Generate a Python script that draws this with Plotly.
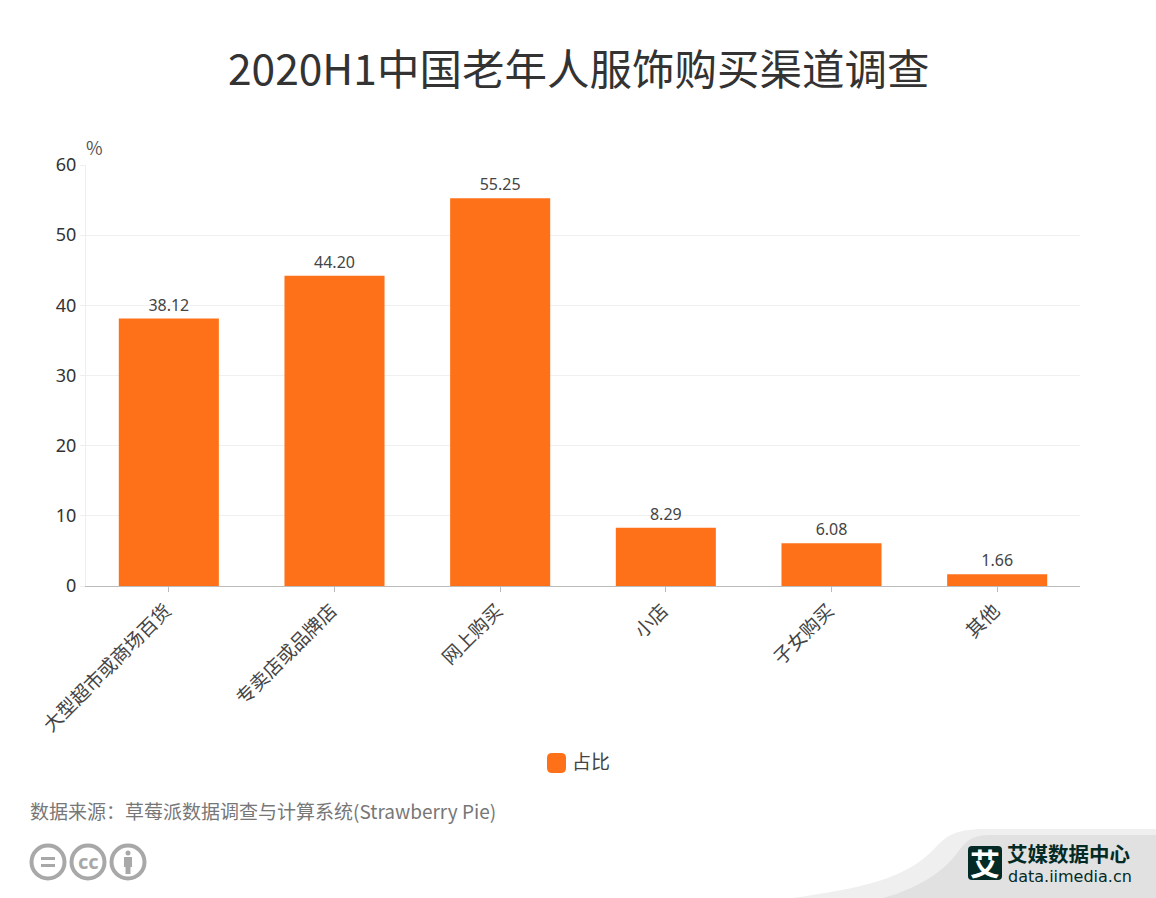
import plotly.graph_objects as go

categories = ["大型超市或商场百货", "专卖店或品牌店", "网上购买", "小店", "子女购买", "其他"]
values = [38.12, 44.20, 55.25, 8.29, 6.08, 1.66]
y_ticks = [0, 10, 20, 30, 40, 50, 60]
series_name = "占比"
title_text = "2020H1中国老年人服饰购买渠道调查"
source_text = "数据来源：草莓派数据调查与计算系统(Strawberry Pie)"

W, H = 1156, 898
L, R, T, B = 86, 1080, 165, 586
FONT = "Noto Sans CJK SC, Noto Sans, sans-serif"
ORANGE = "#ff7119"


def px(x):
    return (x - L) / (R - L)


def py(y):
    return (B - y) / (B - T)


def path(fmt_points):
    out = []
    for cmd, pts in fmt_points:
        out.append(cmd + " ".join(f"{px(x):.5f},{py(y):.5f}" for x, y in pts))
    return " ".join(out) + " Z"


def shp(**k):
    return dict(xref="paper", yref="paper", layer="below", **k)


def circle(cx, cy, r, line=None, fill="rgba(0,0,0,0)", lw=4):
    return shp(type="circle", x0=px(cx - r), x1=px(cx + r), y0=py(cy + r), y1=py(cy - r),
               line=dict(color=line or "rgba(0,0,0,0)", width=lw if line else 0), fillcolor=fill)


def rect(x0, y0, x1, y1, fill):
    return shp(type="rect", x0=px(x0), x1=px(x1), y0=py(y1), y1=py(y0), line=dict(width=0), fillcolor=fill)


def rrect(x0, y0, x1, y1, r, fill):
    p = path([("M", [(x0 + r, y0)]), ("L", [(x1 - r, y0)]), ("Q", [(x1, y0), (x1, y0 + r)]),
              ("L", [(x1, y1 - r)]), ("Q", [(x1, y1), (x1 - r, y1)]), ("L", [(x0 + r, y1)]),
              ("Q", [(x0, y1), (x0, y1 - r)]), ("L", [(x0, y0 + r)]), ("Q", [(x0, y0), (x0 + r, y0)])])
    return shp(type="path", path=p, line=dict(width=0), fillcolor=fill)


def note(x, y, text, size, color, anchor="left", family=FONT):
    return dict(xref="paper", yref="paper", x=px(x), y=py(y), text=text, showarrow=False, borderpad=0,
                xanchor=anchor, yanchor="middle", font=dict(size=size, color=color, family=family))


GREY = "#a8a8a8"
shapes = [
    # corner swoosh
    shp(type="path", line=dict(width=0), fillcolor="#efefef",
        path=path([("M", [(793, 898)]), ("C", [(860, 888), (905, 880), (935, 848)]),
                   ("C", [(945, 838), (952, 829), (985, 829)]), ("L", [(1156, 829)]), ("L", [(1156, 898)])])),
    shp(type="path", line=dict(width=0), fillcolor="#e1e1e1",
        path=path([("M", [(883, 898)]), ("C", [(920, 888), (945, 870), (958, 852)]),
                   ("C", [(968, 838), (975, 835), (992, 835)]), ("L", [(1156, 835)]), ("L", [(1156, 898)])])),
    rrect(968, 846, 1002, 880, 4, "#042a26"),
    # licence icons
    circle(48, 862, 16.5, GREY),
    circle(88, 862, 16.5, GREY),
    circle(128, 862, 16.5, GREY),
    rect(41, 857, 55, 860, GREY),
    rect(41, 864, 55, 867, GREY),
    circle(128, 853, 2.5, None, GREY),
    rect(124, 857, 132, 867, GREY),
    rect(125.5, 866, 130.5, 874, GREY),
    # legend marker
    rrect(547, 753, 566, 773, 5, ORANGE),
]

annotations = [
    note(578.5, 67, title_text, 42.5, "#333333", "center"),
    note(84.5, 147, "%", 18, "#555555"),
    note(571, 760, series_name, 19, "#444444"),
    note(29, 810, source_text, 19, "#777777"),
    note(88, 861, "<b>cc</b>", 20, GREY, "center", "Noto Sans, sans-serif"),
    note(985, 862, "<b>艾</b>", 30, "#ffffff", "center"),
    note(1006, 853, "<b>艾媒数据中心</b>", 20.5, "#042a26"),
    note(1007, 877, "data.iimedia.cn", 16, "#042a26", "left", "DejaVu Sans, sans-serif"),
]

fig = go.Figure(go.Bar(
    x=categories, y=values, name=series_name, marker=dict(color=ORANGE, line=dict(width=0)),
    text=[f"{v:.2f}" for v in values], textposition="outside", cliponaxis=False,
    textfont=dict(size=16, color="#444444", family="Noto Sans, sans-serif"),
    hoverinfo="x+y",
))
fig.update_layout(
    width=W, height=H, autosize=False, showlegend=False,
    margin=dict(l=L, r=W - R, t=T, b=H - B, pad=0),
    paper_bgcolor="#ffffff", plot_bgcolor="#ffffff", bargap=0.396,
    font=dict(family=FONT), shapes=shapes, annotations=annotations,
)
fig.update_xaxes(
    type="category", tickangle=-45, showgrid=False, showline=True, linecolor="#bbbbbb", linewidth=1,
    ticks="outside", ticklen=5, tickcolor="#bbbbbb", tickfont=dict(size=19, color="#444444", family=FONT),
    zeroline=False, ticklabelshift=-3,
)
fig.update_yaxes(
    range=[0, 60], tickvals=y_ticks, showgrid=True, gridcolor="#f0f0f0", gridwidth=1,
    showline=True, linecolor="#eeeeee", linewidth=1, ticks="outside", ticklen=5, tickcolor="#eeeeee",
    tickfont=dict(size=18, color="#333333", family="Noto Sans, sans-serif"), zeroline=False,
)
fig.write_html("out.html", config=dict(displayModeBar=False),
               post_script="document.body.style.margin='0';document.body.style.overflow='hidden';")
